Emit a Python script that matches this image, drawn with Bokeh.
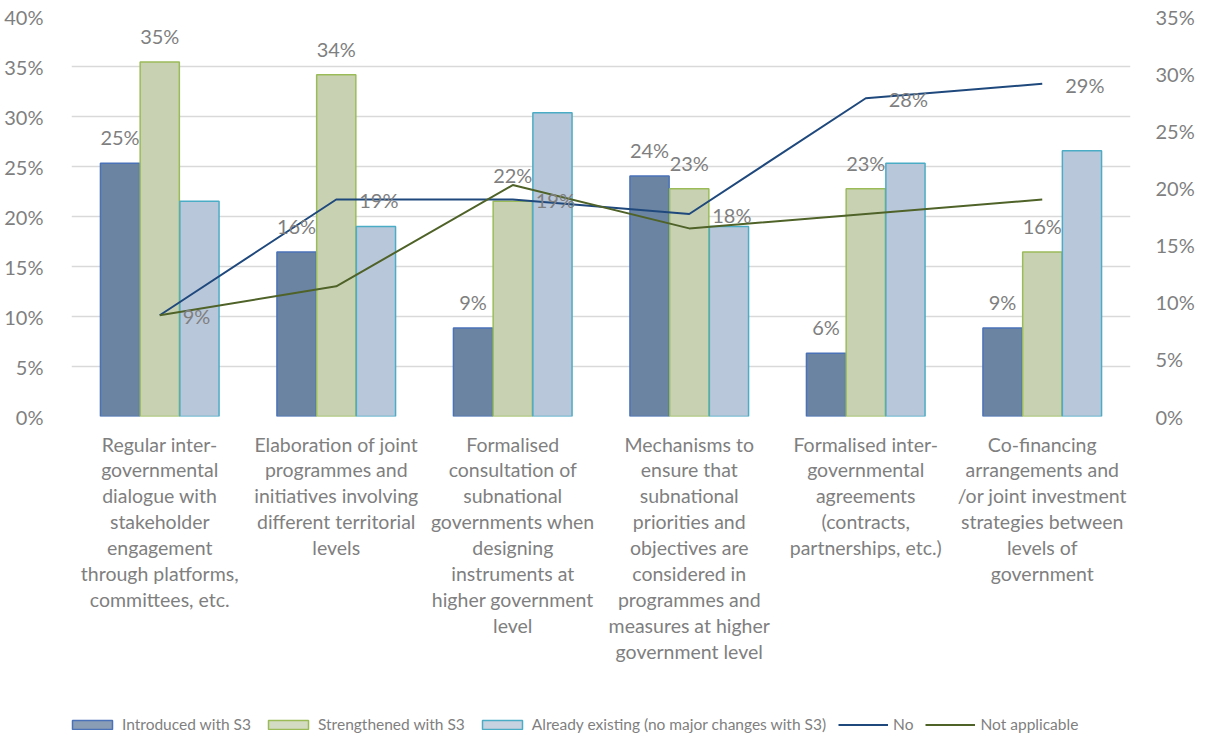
from bokeh.plotting import figure
from bokeh.layouts import column
from bokeh.models import (FactorRange, Range1d, LinearAxis, NumeralTickFormatter,
                          FixedTicker, Legend, LegendItem, ColumnDataSource)
from bokeh.transform import dodge
from bokeh.core.properties import value
from bokeh.embed import file_html
from bokeh.resources import INLINE

categories = [
    "Regular inter-\ngovernmental\ndialogue with\nstakeholder\nengagement\nthrough platforms,\ncommittees, etc.",
    "Elaboration of joint\nprogrammes and\ninitiatives involving\ndifferent territorial\nlevels",
    "Formalised\nconsultation of\nsubnational\ngovernments when\ndesigning\ninstruments at\nhigher government\nlevel",
    "Mechanisms to\nensure that\nsubnational\npriorities and\nobjectives are\nconsidered in\nprogrammes and\nmeasures at higher\ngovernment level",
    "Formalised inter-\ngovernmental\nagreements\n(contracts,\npartnerships, etc.)",
    "Co-financing\narrangements and\n/or joint investment\nstrategies between\nlevels of\ngovernment",
]
introduced = [0.2532, 0.1646, 0.0886, 0.2405, 0.0633, 0.0886]
strengthened = [0.3544, 0.3418, 0.2152, 0.2278, 0.2278, 0.1646]
already = [0.2152, 0.1899, 0.3038, 0.1899, 0.2532, 0.2658]
no = [0.0886, 0.1899, 0.1899, 0.1772, 0.2785, 0.2911]
not_applicable = [0.0886, 0.1139, 0.2025, 0.1646, 0.1772, 0.1899]

series_names = ["Introduced with S3", "Strengthened with S3",
                "Already existing (no major changes with S3)", "No", "Not applicable"]

left_ticks = [0, 0.05, 0.10, 0.15, 0.20, 0.25, 0.30, 0.35, 0.40]
right_ticks = [0, 0.05, 0.10, 0.15, 0.20, 0.25, 0.30, 0.35]

def pct(vals):
    return ["%d%%" % round(v * 100) for v in vals]

src = ColumnDataSource(dict(
    cat=categories,
    intro=introduced, stren=strengthened, already=already,
    no=no, na=not_applicable,
    intro_lbl=pct(introduced), stren_lbl=pct(strengthened), no_lbl=pct(no),
))

FONT = "Lato"
GRAY = "#7f7f7f"
BAR_STYLES = [("#6b84a2", "#4a72b8"), ("#c8d2b3", "#9bbb59"), ("#b9c7da", "#4bacc6")]
LINE_COLORS = ["#1f497d", "#4f6228"]
BAR_COLS = ["intro", "stren", "already"]

W = 1197
H_MAIN = 690
H_LEG = 43
p = figure(x_range=FactorRange(*categories), y_range=Range1d(0, 0.40),
           width=W, height=H_MAIN, output_backend="svg", toolbar_location=None,
           min_border_left=71, min_border_right=W - 1142, min_border_top=16,
           min_border_bottom=H_MAIN - 416)
p.outline_line_color = None
p.extra_y_ranges = {"right": Range1d(0, 0.35)}

bw = 0.222
off = 0.225
for col_name, dx, (fc, lc) in zip(BAR_COLS, [-off, 0, off], BAR_STYLES):
    p.vbar(x=dodge("cat", dx, range=p.x_range), top=col_name, width=bw, source=src,
           fill_color=fc, line_color=lc, line_width=1.5)

p.line(x="cat", y="no", source=src, y_range_name="right", line_color=LINE_COLORS[0], line_width=2)
p.line(x="cat", y="na", source=src, y_range_name="right", line_color=LINE_COLORS[1], line_width=2)

p.text(x=dodge("cat", -off, range=p.x_range), y="intro", text="intro_lbl", source=src,
       text_align="center", text_baseline="middle", y_offset=-26,
       text_font=value(FONT), text_font_size="20px", text_color=GRAY)
p.text(x=dodge("cat", 0, range=p.x_range), y="stren", text="stren_lbl", source=src,
       text_align="center", text_baseline="middle", y_offset=-26,
       text_font=value(FONT), text_font_size="20px", text_color=GRAY)
p.text(x="cat", y="no", text="no_lbl", source=src, y_range_name="right",
       text_align="left", text_baseline="middle", x_offset=23, y_offset=1,
       text_font=value(FONT), text_font_size="20px", text_color=GRAY)

# axes
p.yaxis.ticker = FixedTicker(ticks=left_ticks)
p.yaxis.formatter = NumeralTickFormatter(format="0%")
raxis = LinearAxis(y_range_name="right", ticker=FixedTicker(ticks=right_ticks),
                   formatter=NumeralTickFormatter(format="0%"))
p.add_layout(raxis, "right")
for ax, so in ((p.yaxis[0], 22), (raxis, 19)):
    ax.axis_line_color = None
    ax.major_tick_line_color = None
    ax.minor_tick_line_color = None
    ax.major_label_standoff = so
    ax.major_label_text_font = FONT
    ax.major_label_text_font_size = "20px"
    ax.major_label_text_color = GRAY

xa = p.xaxis[0]
xa.axis_line_color = None
xa.major_tick_line_color = None
xa.major_label_standoff = 10
xa.major_label_text_font = FONT
xa.major_label_text_font_size = "19.5px"
xa.major_label_text_line_height = 1.13
xa.major_label_text_color = GRAY
xa.major_label_orientation = "horizontal"

p.xgrid.grid_line_color = None
p.ygrid.grid_line_color = "#d9d9d9"
p.ygrid.grid_line_width = 1.5

# legend strip: a second figure whose (hidden) renderers share the same data
q = figure(width=W, height=H_LEG, output_backend="svg", toolbar_location=None,
           x_range=p.x_range, y_range=Range1d(0, 0.40),
           min_border_left=0, min_border_right=0, min_border_top=0, min_border_bottom=0)
q.axis.visible = False
q.grid.visible = False
q.outline_line_color = None
items = []
for name, col_name, (fc, lc) in zip(series_names[:3], BAR_COLS, BAR_STYLES):
    r = q.vbar(x="cat", top=col_name, width=bw, source=src, fill_color=fc, fill_alpha=0.8,
               line_color=lc, line_width=1.5, visible=False)
    items.append(LegendItem(label=name, renderers=[r]))
for name, col_name, lc in zip(series_names[3:], ["no", "na"], LINE_COLORS):
    r = q.line(x="cat", y=col_name, source=src, line_color=lc, line_width=2, visible=False)
    items.append(LegendItem(label=name, renderers=[r]))

legend = Legend(items=items, orientation="horizontal", location=(-4, 0),
                glyph_width=50, glyph_height=11, label_standoff=5, spacing=12,
                padding=0, margin=0, border_line_color=None, background_fill_alpha=0,
                inactive_fill_alpha=0,
                label_text_font=FONT, label_text_font_size="15.5px", label_text_color=GRAY)
q.add_layout(legend, "center")

layout = column(p, q, spacing=0)
open("out.html", "w").write(file_html(layout, INLINE))
